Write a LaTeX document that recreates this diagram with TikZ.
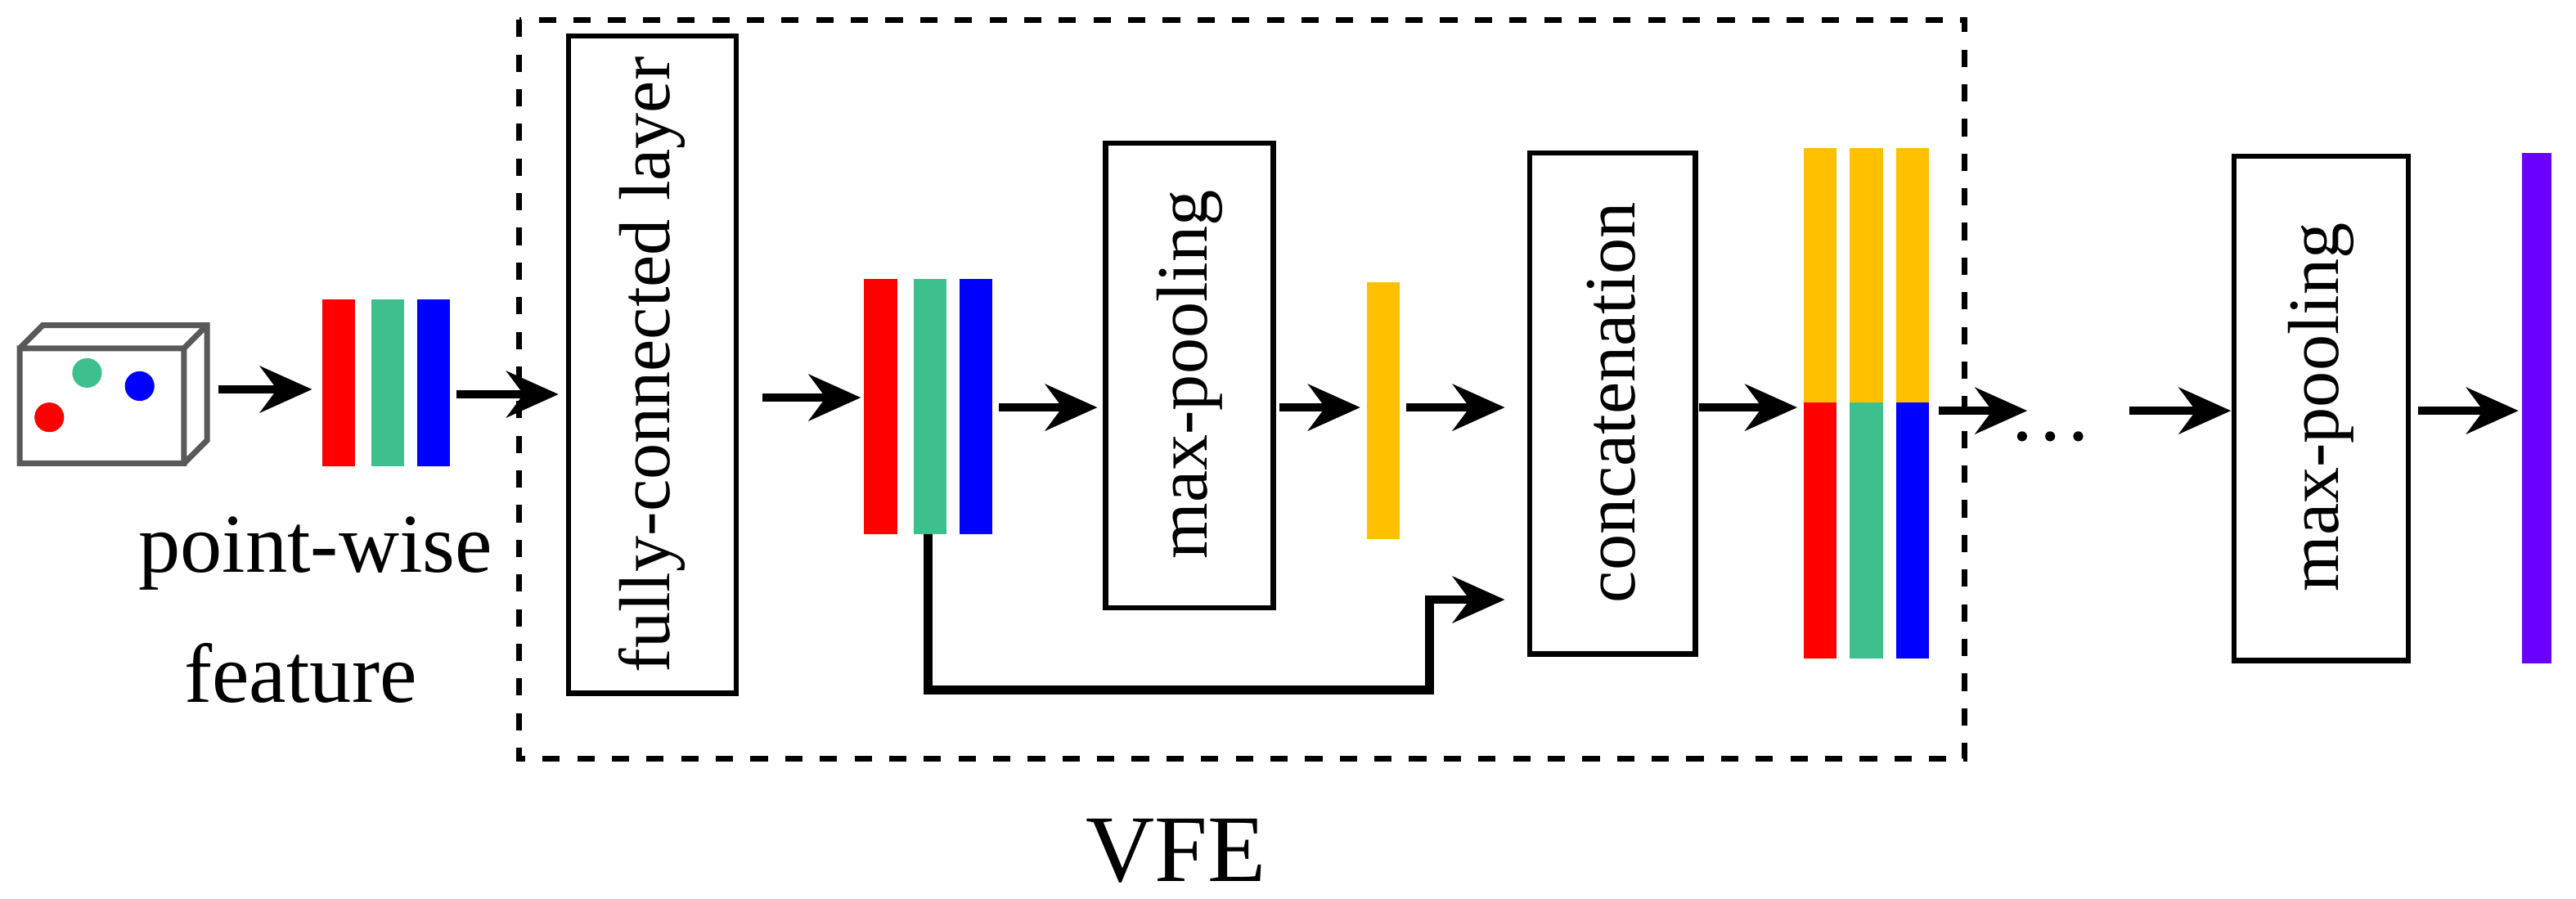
\documentclass[tikz,border=0pt]{standalone}
\usepackage{fontspec}
\setmainfont{Liberation Serif}
\usetikzlibrary{arrows.meta}
\definecolor{cr}{HTML}{FF0000}
\definecolor{cg}{HTML}{3DC08E}
\definecolor{cb}{HTML}{0000FF}
\definecolor{cy}{HTML}{FFC000}
\definecolor{cp}{HTML}{6A00FF}
\begin{document}
\begin{tikzpicture}[x=0.01cm,y=-0.01cm,
  arr/.style={line width=1.5pt,-{Stealth[length=9pt,width=8pt]}},
  box/.style={draw,line width=0.9pt},
  lbl/.style={font=\fontsize{14.5}{17}\selectfont},
  rlbl/.style={font=\fontsize{12.5}{15}\selectfont,rotate=90}]
\useasboundingbox (0,0) rectangle (1568,547);
% cube
\draw[gray!70!black,line width=1pt] (12,212) rectangle (112,282) (12,212)--(26,198)--(126,198)--(126,268)--(112,282) (112,212)--(126,198);
\fill[cr] (30,254) circle (9); \fill[cg] (53,227) circle (9); \fill[cb] (85,235) circle (9);
% bars 1
\fill[cr] (196,182) rectangle (216,284); \fill[cg] (226,182) rectangle (246,284); \fill[cb] (254,182) rectangle (274,284);
\coordinate (b1l) at (190,237); \coordinate (b1r) at (278,240);
\draw[arr] (133,237) -- (b1l);
\node[lbl] (pw) at (192,337) {point-wise};
\node[lbl] (ft) at (183,410) {feature};
% dashed
\draw[dashed,line width=1pt] (316,12) rectangle (1196,462);
\node[font=\fontsize{16.5}{19}\selectfont] (vfe) at (716,518) {VFE};
% FC
\draw[box] (346,22) rectangle (448,422);
\node[rlbl] (fct) at (397,222) {fully-connected layer};
\coordinate (fcl) at (340,240);
\draw[arr] (b1r) -- (fcl);
% bars 2
\fill[cr] (526,170) rectangle (546,325); \fill[cg] (556,170) rectangle (576,325); \fill[cb] (584,170) rectangle (604,325);
\coordinate (b2l) at (524,242);
\draw[arr] (464,242) -- (b2l);
% maxpool 1
\draw[box] (673,87) rectangle (775,370);
\node[rlbl] (mp1) at (724,228) {max-pooling};
\draw[arr] (608,248) -- (668,248);
% yellow
\fill[cy] (832,172) rectangle (852,328);
\draw[arr] (779,248) -- (828,248);
% concat
\draw[box] (931,93) rectangle (1032,398);
\node[rlbl] (cc) at (981,245) {concatenation};
\draw[arr] (856,248) -- (916,248);
\coordinate (g) at (565,325);
\draw[arr] (g) -- (565,420) -- (870,420) -- (870,365) -- (916,365);
% bars 3
\fill[cy] (1098,90) rectangle (1118,245); \fill[cy] (1126,90) rectangle (1146,245); \fill[cy] (1154,90) rectangle (1174,245);
\fill[cr] (1098,245) rectangle (1118,401); \fill[cg] (1126,245) rectangle (1146,401); \fill[cb] (1154,245) rectangle (1174,401);
\draw[arr] (1034,248) -- (1094,248);
\draw[arr] (1180,250) -- (1234,250);
\node[lbl] (dots) at (1248,266) {\ldots};
\draw[arr] (1296,250) -- (1358,250);
% maxpool 2
\draw[box] (1360,95) rectangle (1466,402);
\node[rlbl] (mp2) at (1413,248) {max-pooling};
\fill[cp] (1535,93) rectangle (1553,404);
\draw[arr] (1472,250) -- (1533,250);
\end{tikzpicture}
\end{document}
